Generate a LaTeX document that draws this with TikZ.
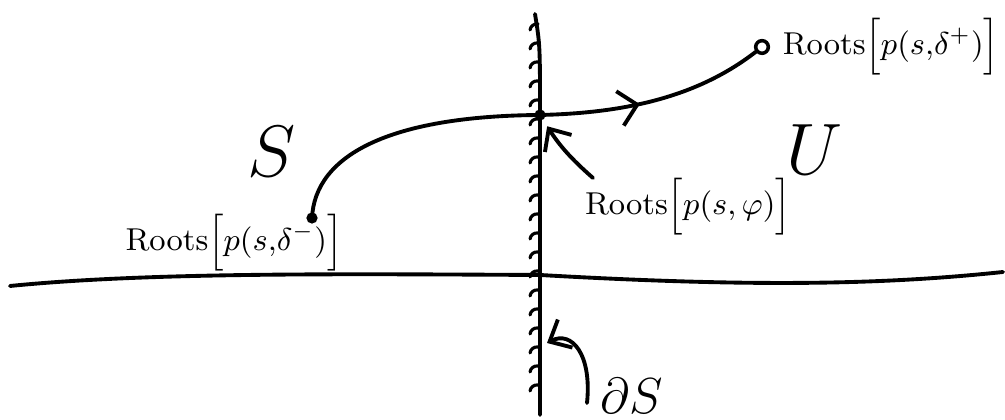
\documentclass[tikz,border=0pt]{standalone}
\usepackage{amsmath}
\usetikzlibrary{arrows.meta, decorations.markings, positioning, calc}

\tikzset{
  pen/.style={line width=1.1pt, line cap=round},
  hatch/.style={line width=0.9pt, line cap=round},
  dotmark/.style={circle, fill, inner sep=0pt, minimum size=3.2pt},
  ringmark/.style={circle, draw, line width=1pt, inner sep=0pt, minimum size=3.6pt},
  rootlabel/.style={font=\small, inner sep=0pt},
  pointer/.style={pen, -{Straight Barb[length=5pt,width=9pt]}},
  flow/.style={pen, postaction={decorate},
    decoration={markings, mark=at position 0.44 with {\arrow{Straight Barb[length=5pt,width=10pt]}}}},
}

\begin{document}
\begin{tikzpicture}
\useasboundingbox (0,0) rectangle (10.05,-4.2);

% the two axes
\coordinate (hleft) at (0.10,-2.86);
\coordinate (hright) at (10.03,-2.72);
\coordinate (vtop) at (5.35,-0.14);
\coordinate (vbot) at (5.40,-4.15);
\node[dotmark] (dphi) at (5.40,-1.15) {};

\draw[pen] (hleft) .. controls (1.5,-2.72) and (3.5,-2.74) .. (5.40,-2.75)
  .. controls (7.5,-2.87) and (8.8,-2.85) .. (hright);
\draw[pen] (vtop) .. controls (5.40,-0.45) .. (dphi.center) -- (vbot);

% hatching on the stable side
\foreach \y in {0.26,0.45,...,4.05}
  \draw[hatch] (5.30,{-\y-0.04}) to[bend left=45] (5.38,{-\y+0.02});

% root locus
\node[dotmark] (dminus) at (3.12,-2.18) {};
\node[ringmark] (dplus) at (7.62,-0.47) {};
\draw[pen] (dminus.center) .. controls (3.15,-1.55) and (3.9,-1.16) .. (dphi.center);
\draw[flow] (dphi.center) .. controls (6.3,-1.13) and (7.0,-0.95) .. (dplus);

% labels
\node[rootlabel, right=0.12cm of dplus] (lplus) {Roots$\Bigl[p(s,\!\delta^{+})\Bigr]$};
\node[rootlabel] (lminus) at (2.34,-2.43) {Roots$\Bigl[p(s,\!\delta^{-})\Bigr]$};
\node[rootlabel] (lphi) at (6.88,-2.07) {Roots$\Bigl[p(s,\varphi)\Bigr]$};
\node[font=\huge, inner sep=0pt] (regS) at (2.72,-1.52) {$S$};
\node[font=\huge, inner sep=0pt] (regU) at (8.15,-1.50) {$U$};
\node[font=\Large, inner sep=0pt] (bdry) at (6.32,-3.96) {$\partial S$};

% pointers
\coordinate (phitail) at (5.93,-1.78);
\coordinate (bdrytail) at (5.87,-4.03);
\coordinate (bdryhead) at (5.47,-3.43);
\draw[pointer, shorten >=2pt] (phitail) to[bend left=8] (dphi);
\draw[pointer] (bdrytail) .. controls (5.92,-3.55) and (5.72,-3.30) .. (bdryhead);
\end{tikzpicture}
\end{document}
